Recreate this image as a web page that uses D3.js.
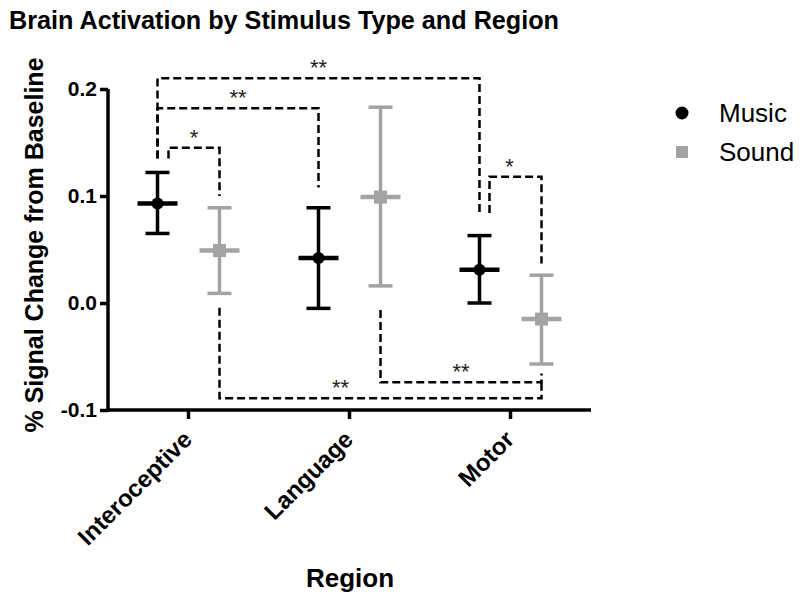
<!DOCTYPE html>
<html><head><meta charset="utf-8">
<script src="https://cdn.jsdelivr.net/npm/d3@7"></script>
<style>body{margin:0;background:#fff;} text{font-family:"Liberation Sans",Arial,sans-serif;}</style>
</head><body><svg id="c" width="800" height="600"></svg>
<script>
const regions = ["Interoceptive","Language","Motor"];
const seriesNames = ["Music","Sound"];
const musicMean = [0.093, 0.042, 0.031];
const musicLow  = [0.065, -0.005, 0.0];
const musicHigh = [0.122, 0.089, 0.063];
const soundMean = [0.049, 0.099, -0.015];
const soundLow  = [0.009, 0.016, -0.057];
const soundHigh = [0.089, 0.183, 0.026];
const yTicks = [-0.1, 0.0, 0.1, 0.2];
// significance brackets: from [region, series] to [region, series], label, bracket level, leg ends
const sigFrom   = [[0,0],[0,0],[0,0],[2,0],[1,1],[0,1]];
const sigTo     = [[0,1],[1,0],[2,0],[2,1],[2,1],[2,1]];
const sigLabel  = ["*","**","**","*","**","**"];
const sigLevel  = [0.145, 0.182, 0.21, 0.118, -0.074, -0.089];
const sigStart  = [[0.135,0.100],[0.135,0.108],[0.135,0.084],[0.084,0.037],[-0.0065,-0.066],[-0.0045,-0.074]];

const svg = d3.select("#c");
const x = d3.scaleBand().domain(regions).range([108, 591]);
const y = d3.scaleLinear().domain([-0.1, 0.2]).range([410, 89]);
const off = [-31, 31];
const cx = (r, s) => x(regions[r]) + x.bandwidth()/2 + off[s];
const colors = ["#000000", "#a3a3a3"];

svg.append("text").attr("x", 9).attr("y", 29).attr("font-size", 25.2).attr("font-weight", "bold")
  .text("Brain Activation by Stimulus Type and Region");

// axes
const fmt = d => d3.format(".1f")(d).replace("\u2212", "-");
const yAx = svg.append("g").attr("transform", "translate(108,0)")
  .call(d3.axisLeft(y).tickValues(yTicks).tickFormat(fmt).tickSizeOuter(0).tickSize(8).tickPadding(3));
const xAx = svg.append("g").attr("transform", "translate(0,410)")
  .call(d3.axisBottom(x).tickSizeOuter(0).tickSize(9));
[yAx, xAx].forEach(g => {
  g.selectAll("path,line").attr("stroke", "#000").attr("stroke-width", 3.5);
  g.selectAll("text").attr("font-size", 21).attr("font-weight", "bold").attr("fill", "#000")
   .attr("font-family", "Liberation Sans, Arial, sans-serif");
});
xAx.select(".domain").attr("d", "M106.5,0H591");
yAx.select(".domain").attr("d", "M0,89V411.7");
xAx.selectAll(".tick text").attr("font-size", 24).attr("text-anchor", "end")
  .attr("transform", "translate(5,31) rotate(-45)").attr("dy", "0em").attr("y", 0).attr("x", 0);

svg.append("text").attr("transform", "translate(43,245) rotate(-90)").attr("text-anchor", "middle")
  .attr("font-size", 25).attr("font-weight", "bold").text("% Signal Change from Baseline");
svg.append("text").attr("x", 350).attr("y", 587).attr("text-anchor", "middle")
  .attr("font-size", 26).attr("font-weight", "bold").text("Region");

// significance brackets
const labelShift = [0, 0, 0, -6, 0, -40];
const legShift = [11, 0, 0, 10, 0, 0];
const sig = svg.append("g");
sigLabel.forEach((lab, i) => {
  const x1 = cx(sigFrom[i][0], sigFrom[i][1]) + legShift[i];
  const x2 = cx(sigTo[i][0], sigTo[i][1]);
  const yl = y(sigLevel[i]);
  const p = d3.path();
  p.moveTo(x1, y(sigStart[i][0])); p.lineTo(x1, yl); p.lineTo(x2, yl); p.lineTo(x2, y(sigStart[i][1]));
  sig.append("path").attr("d", p.toString()).attr("fill", "none").attr("stroke", "#000")
    .attr("stroke-width", 2.5).attr("stroke-dasharray", "8,4");
  sig.append("text").attr("x", (x1+x2)/2 + labelShift[i]).attr("y", yl - 3).attr("text-anchor", "middle")
    .attr("font-size", 22).attr("fill", "#222").text(lab);
});

// error bars
const series = [[musicMean, musicLow, musicHigh], [soundMean, soundLow, soundHigh]];
series.forEach((ser, s) => {
  const g = svg.append("g");
  regions.forEach((r, i) => {
    const px = cx(i, s);
    g.append("line").attr("x1", px).attr("x2", px).attr("y1", y(ser[1][i])).attr("y2", y(ser[2][i]))
      .attr("stroke", colors[s]).attr("stroke-width", 3.5);
    [ser[1][i], ser[2][i]].forEach(v => g.append("line").attr("x1", px-12).attr("x2", px+12)
      .attr("y1", y(v)).attr("y2", y(v)).attr("stroke", colors[s]).attr("stroke-width", 3.5));
    g.append("line").attr("x1", px-20).attr("x2", px+20).attr("y1", y(ser[0][i])).attr("y2", y(ser[0][i]))
      .attr("stroke", colors[s]).attr("stroke-width", 4.5);
    if (s === 0) g.append("circle").attr("cx", px).attr("cy", y(ser[0][i])).attr("r", 6).attr("fill", colors[s]);
    else g.append("rect").attr("x", px-6.5).attr("y", y(ser[0][i])-6.5).attr("width", 13).attr("height", 13).attr("fill", colors[s]);
  });
});

// legend
const lg = svg.append("g");
seriesNames.forEach((n, i) => {
  const ly = 113 + i*39;
  if (i === 0) lg.append("circle").attr("cx", 682).attr("cy", ly).attr("r", 6.5).attr("fill", colors[0]);
  else lg.append("rect").attr("x", 676).attr("y", ly-6).attr("width", 12).attr("height", 12).attr("fill", colors[1]);
  lg.append("text").attr("x", 719).attr("y", ly).attr("dy", "0.36em").attr("font-size", 26).text(n);
});
</script></body></html>
